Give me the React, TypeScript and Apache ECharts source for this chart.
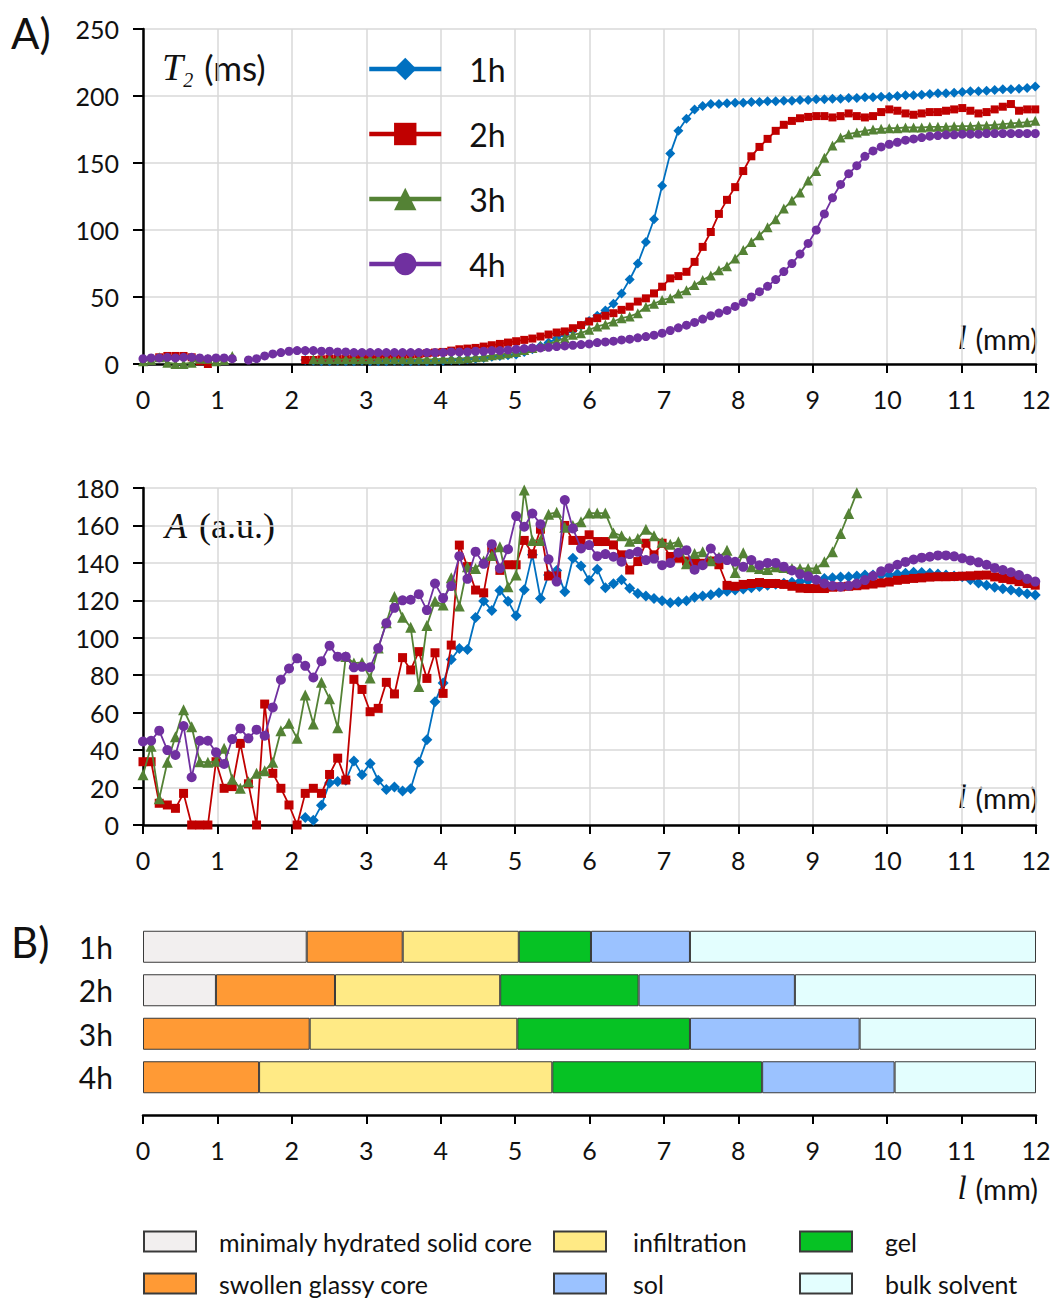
import React, { useEffect, useRef } from "react";
import * as echarts from "echarts";

// Sample positions along l (mm)
const POSITIONS = [
  0, 0.109, 0.218, 0.327, 0.436, 0.545, 0.654, 0.763, 0.872, 0.981,
  1.09, 1.199, 1.308, 1.417, 1.526, 1.635, 1.744, 1.853, 1.962, 2.071,
  2.18, 2.289, 2.398, 2.507, 2.616, 2.725, 2.834, 2.943, 3.052, 3.161,
  3.27, 3.379, 3.488, 3.597, 3.706, 3.815, 3.924, 4.033, 4.142, 4.251,
  4.36, 4.469, 4.578, 4.687, 4.796, 4.905, 5.014, 5.123, 5.232, 5.341,
  5.45, 5.559, 5.668, 5.777, 5.886, 5.995, 6.104, 6.213, 6.322, 6.431,
  6.54, 6.649, 6.758, 6.867, 6.976, 7.085, 7.194, 7.303, 7.412, 7.521,
  7.63, 7.739, 7.848, 7.957, 8.066, 8.175, 8.284, 8.393, 8.502, 8.611,
  8.72, 8.829, 8.938, 9.047, 9.156, 9.265, 9.374, 9.483, 9.592, 9.701,
  9.81, 9.919, 10.028, 10.137, 10.246, 10.355, 10.464, 10.573, 10.682, 10.791,
  10.9, 11.009, 11.118, 11.227, 11.336, 11.445, 11.554, 11.663, 11.772, 11.881,
  11.99,
];

// T2 (ms)
const T2_1H = [
  null, null, null, null, null, null, null, null, null, null,
  null, null, null, null, null, null, null, null, null, null,
  3, 2.5, 2, 2, 2.5, 2, 2, 2.5, 2, 2,
  2, 2.5, 2, 2, 2.5, 2, 2.5, 2.5, 3, 3,
  3.5, 4, 4.5, 5.5, 6, 6.5, 7, 9, 11, 13.5,
  16, 19, 22, 25, 28.5, 32, 36, 40, 45, 52.7,
  63, 75, 91, 108, 133, 157, 174, 183, 190, 192.6,
  194, 194, 194.5, 195, 195, 195.5, 195.5, 196, 196, 196.5,
  196.5, 197, 197, 197.5, 197.5, 198, 198, 198.5, 198.5, 199,
  199, 199.5, 199.5, 200, 200.5, 200.5, 201, 201.5, 202, 202,
  202.5, 203, 203.5, 203.5, 204, 204.5, 205, 205, 205.5, 206,
  207,
];
const T2_2H = [
  null, null, 5, 6, 6, 6, 5, 2, 0, null,
  null, null, null, null, null, null, null, null, null, null,
  3, 3, 3.5, 4, 4, 4, 4.5, 5, 5, 5.5,
  6, 6, 6.5, 7, 7.5, 8, 8.5, 9, 10, 11,
  11.5, 12, 13, 14, 15, 16, 17, 18, 19, 20.5,
  22, 23.5, 24.3, 26.7, 29, 31.7, 34.2, 36, 37.9, 40.4,
  42.8, 46.6, 49, 52.7, 57.7, 63.9, 65.6, 68.8, 76.2, 87.4,
  98.5, 112, 122.5, 132, 144, 155, 162, 168, 174, 178.5,
  181.4, 183.4, 184.4, 185, 185, 184, 185, 187, 185, 184,
  185, 188, 190, 189, 187, 186, 187, 188, 188, 189,
  190, 191, 189, 187, 188, 190, 192, 194, 189, 190,
  190,
];
const T2_3H = [
  2, 3, 5, 1, 0, 0, 1, 4, 4, 2,
  3, 6, null, null, null, null, null, null, null, null,
  null, 3.5, 3.5, 3.5, 3.5, 3.5, 3.5, 3.5, 3.5, 3.5,
  3.5, 3.5, 3.5, 3.5, 3.5, 3.5, 3.5, 4, 4, 4,
  4.5, 5, 5.5, 6.5, 7, 8, 9, 10.5, 12, 13.5,
  15, 17, 19.3, 21.8, 23, 25.5, 28, 29.5, 31.7, 34.2,
  35.5, 37.9, 42.8, 45, 47.8, 49, 52.7, 55, 58.9, 62.6,
  66, 70, 73, 78.7, 85, 91, 96, 102, 108, 116,
  122, 128, 137, 144, 154, 163, 169, 171.5, 172.8, 174,
  175, 175.5, 176, 176, 176.5, 176.5, 176.5, 177, 177, 177,
  177.5, 177.5, 177.5, 178, 178, 178.5, 179, 179.5, 180, 180.5,
  181.5,
];
const T2_4H = [
  4, 4.5, 4.5, 5, 4.5, 5, 5, 4.5, 4, 4.5,
  4.5, 4, null, 3, 4, 6, 7.5, 8.5, 9.5, 10,
  10, 10, 9.5, 9.5, 9, 9, 8.5, 8.5, 8.5, 8.5,
  8.5, 8.5, 8.5, 8.5, 8.5, 8.5, 8.5, 8.5, 9, 9,
  9, 9.5, 9.5, 10, 10, 10.5, 11, 11.5, 12, 12,
  12.5, 13, 13.5, 14, 14.5, 15, 16, 16.5, 17, 18,
  18.5, 19.5, 20.5, 21.5, 23, 25, 27, 29, 31, 33.5,
  36, 38, 40, 43, 46, 50, 54, 58, 63, 69,
  75, 82, 90, 100, 112, 124, 134, 142, 148, 155,
  159, 162, 164, 165.5, 167, 168, 169, 170, 170.5, 171,
  171, 171.5, 171.5, 171.5, 172, 172, 172, 172, 172, 172,
  172,
];

// A (a.u.)
const A_1H = [
  null, null, null, null, null, null, null, null, null, null,
  null, null, null, null, null, null, null, null, null, null,
  4, 2.5, 10.5, 22.5, 23.3, 23.9, 34.2, 26.9, 32.9, 23.9,
  18.9, 20.3, 18.2, 19.4, 33.6, 45.6, 65.8, 75.9, 88.4, 94.3,
  93.7, 110.8, 119.7, 114.6, 125.3, 119.5, 111.8, 125.7, 144.3, 121,
  133.5, 136, 124.6, 142.5, 138.4, 130.7, 136.6, 126.7, 128.8, 131,
  126.4, 123.7, 122.3, 121, 119.8, 118.7, 119.3, 119.8, 121.6, 122.3,
  123, 124, 124.8, 125.5, 126, 126.7, 127.4, 128, 128.6, 129.1,
  129.6, 130, 130.5, 131, 131.6, 132.1, 132.4, 132.6, 133, 133.5,
  133.5, 133.5, 133.5, 134, 134.5, 135, 134.8, 134.4, 134, 133.5,
  133, 132.6, 131, 129.2, 128, 127, 126.2, 125.5, 124.5, 123.5,
  122.8,
];
const A_2H = [
  33.8, 33.8, 11.6, 10.7, 8.9, 16.9, 0, 0, 0, 33.8,
  19.6, 20.5, 43.6, 22, 0, 64.6, 27.6, 19.6, 10.7, 0,
  16.9, 19.6, 16.9, 27, 35.7, 24, 77.8, 72.4, 60.5, 62.3,
  76.2, 70, 89.4, 82.8, 92.6, 78.3, 92, 70.3, 96.1, 149.5,
  138, 125.5, 124, 148, 136, 139, 139, 152, 144.8, 158,
  133, 133, 160, 152, 152, 155, 151.4, 151.4, 149.6, 144.3,
  136.2, 140.7, 150.5, 144.3, 150.5, 143.4, 142.5, 141, 140, 139.8,
  141, 139, 128, 127.5, 128.5, 129, 129.5, 129, 129, 128.5,
  127.5, 126.5, 126.3, 126.3, 126.3, 127, 127.2, 127.5, 127.8, 128.2,
  128.7, 129.3, 129.8, 130.7, 131.2, 131.7, 132, 132.4, 132.6, 132.6,
  132.7, 132.9, 133.1, 133.4, 133.5, 132.5, 131.7, 131, 130, 129,
  128.1,
];
const A_3H = [
  26.8, 42, 14, 33.5, 47.2, 61.5, 52.5, 33.8, 33.5, 34,
  41, 24.5, 19.6, 23.1, 27.6, 29, 33.5, 50.3, 54.4, 46.3,
  69.5, 54, 76.3, 67.4, 52, 90, 86.5, 86.8, 78.5, 94.5,
  108, 122, 111, 105.6, 74, 106.5, 119.5, 117.5, 132, 117,
  138, 137, 141, 144, 148.6, 127.2, 133.5, 178.9, 152, 152,
  166, 167, 159, 160, 162, 166.6, 166.6, 166.6, 156, 154.5,
  151.5, 153, 158, 154.5, 151, 150, 151.3, 139.6, 145, 146,
  141.2, 143, 146.8, 134.8, 145.4, 138, 137, 136.5, 138, 137.5,
  137, 137, 137, 137, 140.6, 146, 155.7, 166.4, 177.5, null,
  null, null, null, null, null, null, null, null, null, null,
  null, null, null, null, null, null, null, null, null, null,
  null,
];
const A_4H = [
  44.6, 45, 50.4, 40, 37.4, 52.9, 25.5, 45, 45, 38.8,
  32.6, 45.9, 51.6, 46.3, 50.9, 47.7, 62.8, 77.6, 83.6, 89,
  85, 78.8, 87.5, 95.8, 89.9, 89.9, 84.2, 84.5, 84.2, 94.4,
  107.8, 116, 120, 120.3, 123.3, 114.8, 129, 121.2, 127.6, 143.6,
  131.5, 146, 139.5, 150, 137.1, 147.3, 165, 159.3, 166.4, 160.7,
  141.9, 130, 173.6, 158.4, 147.7, 149.5, 143.6, 144.7, 143.3, 140.6,
  144.7, 145.9, 141.5, 142.3, 138.8, 140, 145.4, 146.8, 136.4, 138.8,
  147.7, 142.3, 141.5, 140.6, 137.9, 141.5, 138.8, 140, 140, 138,
  136, 134, 132.8, 131, 129, 127.8, 127.3, 127.8, 129, 130.8,
  133, 135.5, 137.2, 139, 140.5, 141.8, 142.8, 143.3, 144, 144,
  143.5, 142.5, 141.3, 140.3, 139, 137.3, 136.2, 135, 133.5, 131.5,
  130,
];

// B) layer widths (mm) per time
const BAR_ROWS = ["1h", "2h", "3h", "4h"];
const SOLID_CORE = [2.2, 0.98, null, null];
const SWOLLEN_CORE = [1.29, 1.6, 2.24, 1.56];
const INFILTRATION = [1.56, 2.22, 2.79, 3.94];
const GEL = [0.97, 1.86, 2.32, 2.82];
const SOL = [1.33, 2.1, 2.28, 1.78];
const BULK_SOLVENT = [4.65, 3.24, 2.37, 1.9];

const X_TICKS = [0, 12];
const T2_RANGE = [0, 250, 50];
const A_RANGE = [0, 180, 20];

const SANS = "Lato, 'Noto Sans', sans-serif";
const SERIF = "'Liberation Serif', 'DejaVu Serif', serif";
const TXT = "#111";
const GRIDC = "#d9d9d9";

const LINES = [
  { name: "1h", color: "#0070C0", symbol: "diamond", size: 10, t2: T2_1H, amp: A_1H },
  { name: "2h", color: "#C00000", symbol: "rect", size: 8, t2: T2_2H, amp: A_2H },
  { name: "3h", color: "#548235", symbol: "triangle", size: 10, t2: T2_3H, amp: A_3H },
  { name: "4h", color: "#7030A0", symbol: "circle", size: 9, t2: T2_4H, amp: A_4H },
];

const PHASES = [
  { name: "minimaly hydrated solid core", color: "#F2EFEF", data: SOLID_CORE, left: 138, top: 1224, pad: 18 },
  { name: "swollen glassy core", color: "#FF9A35", data: SWOLLEN_CORE, left: 138, top: 1266, pad: 18 },
  { name: "infiltration", color: "#FFEA85", data: INFILTRATION, left: 548, top: 1224, pad: 22 },
  { name: "gel", color: "#06C224", data: GEL, left: 794, top: 1224, pad: 28 },
  { name: "sol", color: "#9BC2FF", data: SOL, left: 548, top: 1266, pad: 22 },
  { name: "bulk solvent", color: "#E3FEFE", data: BULK_SOLVENT, left: 794, top: 1266, pad: 28 },
];

function xAxisCfg(gridIndex: number, extra: any = {}) {
  return {
    type: "value",
    gridIndex,
    min: X_TICKS[0],
    max: X_TICKS[1],
    interval: 1,
    axisLine: { show: true, onZero: false, lineStyle: { color: "#000", width: 2.5 } },
    axisTick: { show: true, length: 9, lineStyle: { color: "#000", width: 2 } },
    axisLabel: { color: TXT, fontSize: 25, fontFamily: SANS, margin: 22 },
    splitLine: { show: gridIndex !== 2, lineStyle: { color: GRIDC, width: 1.5 } },
    ...extra,
  };
}

function yValueAxis(gridIndex: number, range: number[]) {
  return {
    type: "value",
    gridIndex,
    min: range[0],
    max: range[1],
    interval: range[2],
    axisLine: { show: true, onZero: false, lineStyle: { color: "#000", width: 2.5 } },
    axisTick: { show: true, length: 10, lineStyle: { color: "#000", width: 2 } },
    axisLabel: { color: TXT, fontSize: 25, fontFamily: SANS, margin: 24 },
    splitLine: { show: true, lineStyle: { color: GRIDC, width: 1.5 } },
  };
}

function mmLabel(y: number) {
  return {
    type: "text",
    x: 1038,
    y,
    style: {
      text: "{l|l}{m|(mm)}",
      textAlign: "right",
      textVerticalAlign: "middle",
      align: "right",
      verticalAlign: "middle",
      fill: TXT,
      rich: {
        l: { fontFamily: SERIF, fontStyle: "italic", fontSize: 33, fill: TXT },
        m: { fontFamily: SANS, fontSize: 29, fill: TXT, padding: [0, 0, 0, 9] },
      },
    },
  };
}

function buildOption() {
  const lineSeries: any[] = [];
  LINES.forEach((s, k) => {
    lineSeries.push({
      type: "line",
      name: s.name,
      xAxisIndex: 0,
      yAxisIndex: 0,
      data: POSITIONS.map((x, i) => [x, s.t2[i]]),
      symbol: s.symbol,
      symbolSize: s.size,
      showSymbol: true,
      lineStyle: { color: s.color, width: 1.8 },
      itemStyle: { color: s.color },
      z: 3 + k,
      silent: true,
    });
  });
  LINES.forEach((s, k) => {
    lineSeries.push({
      type: "line",
      name: s.name,
      xAxisIndex: 1,
      yAxisIndex: 1,
      data: POSITIONS.map((x, i) => [x, s.amp[i]]),
      symbol: s.symbol,
      symbolSize: s.size + 1,
      showSymbol: true,
      lineStyle: { color: s.color, width: 1.8 },
      itemStyle: { color: s.color },
      z: 3 + k,
      silent: true,
    });
  });
  const barSeries = PHASES.map((p) => ({
    type: "bar",
    name: p.name,
    stack: "phases",
    xAxisIndex: 2,
    yAxisIndex: 2,
    data: p.data,
    barWidth: 32,
    itemStyle: { color: p.color, borderColor: "#3a3a3a", borderWidth: 1 },
    silent: true,
  }));

  const legends: any[] = [
    {
      data: LINES.map((l) => l.name),
      orient: "vertical",
      left: 362,
      top: 48,
      itemWidth: 72,
      itemHeight: 28,
      itemGap: 33,
      selectedMode: false,
      lineStyle: { width: 4.5 },
      textStyle: { fontSize: 32, fontFamily: SANS, color: TXT, padding: [0, 0, 0, 23] },
    },
    ...PHASES.map((p) => ({
      data: [p.name],
      left: p.left,
      top: p.top,
      icon: "rect",
      itemWidth: 52,
      itemHeight: 20,
      selectedMode: false,
      textStyle: { fontSize: 25, fontFamily: SANS, color: TXT, padding: [0, 0, 0, p.pad] },
    })),
  ];

  return {
    animation: false,
    backgroundColor: "#fff",
    grid: [
      { left: 143, top: 29, width: 893, height: 335, outerBoundsMode: "none" },
      { left: 143, top: 488, width: 893, height: 337, outerBoundsMode: "none" },
      { left: 143, top: 925, width: 893, height: 174, outerBoundsMode: "none" },
    ],
    xAxis: [xAxisCfg(0), xAxisCfg(1), xAxisCfg(2, { offset: 16 })],
    yAxis: [
      yValueAxis(0, T2_RANGE),
      yValueAxis(1, A_RANGE),
      {
        type: "category",
        gridIndex: 2,
        data: BAR_ROWS,
        inverse: true,
        axisLine: { show: false },
        axisTick: { show: false },
        axisLabel: { color: TXT, fontSize: 30, fontFamily: SANS, margin: 30 },
        splitLine: { show: false },
      },
    ],
    legend: legends,
    series: [...lineSeries, ...barSeries],
    graphic: [
      { type: "text", x: 11, y: 33, style: { text: "A)", fontSize: 42, fontFamily: SANS, fill: TXT, textVerticalAlign: "middle", verticalAlign: "middle" } },
      { type: "text", x: 11, y: 942, style: { text: "B)", fontSize: 42, fontFamily: SANS, fill: TXT, textVerticalAlign: "middle", verticalAlign: "middle" } },
      {
        type: "text",
        x: 162,
        y: 67,
        style: {
          text: "{t|T}{s|2}{n|(ms)}",
          textVerticalAlign: "middle",
          verticalAlign: "middle",
          fill: TXT,
          rich: {
            t: { fontFamily: SERIF, fontStyle: "italic", fontSize: 38, fill: TXT },
            s: { fontFamily: SERIF, fontStyle: "italic", fontSize: 20, fill: TXT, padding: [26, 0, 0, 0] },
            n: { fontFamily: SANS, fontSize: 35, fill: TXT, padding: [0, 0, 0, 11] },
          },
        },
      },
      {
        type: "text",
        x: 165,
        y: 526,
        style: {
          text: "{a|A}{b|(a.u.)}",
          textVerticalAlign: "middle",
          verticalAlign: "middle",
          fill: TXT,
          rich: {
            a: { fontFamily: SERIF, fontStyle: "italic", fontSize: 36, fill: TXT },
            b: { fontFamily: SERIF, fontSize: 36, fill: TXT, padding: [0, 0, 0, 12] },
          },
        },
      },
      mmLabel(338),
      mmLabel(797),
      mmLabel(1188),
    ],
  };
}

export default function App() {
  const ref = useRef<HTMLDivElement>(null);
  useEffect(() => {
    const chart = echarts.init(ref.current as HTMLDivElement, null, { renderer: "svg" });
    chart.setOption(buildOption() as any);
    return () => chart.dispose();
  }, []);
  return (
    <div
      ref={ref}
      style={{ position: "absolute", left: 0, top: 0, width: 1052, height: 1298, background: "#fff" }}
    />
  );
}
